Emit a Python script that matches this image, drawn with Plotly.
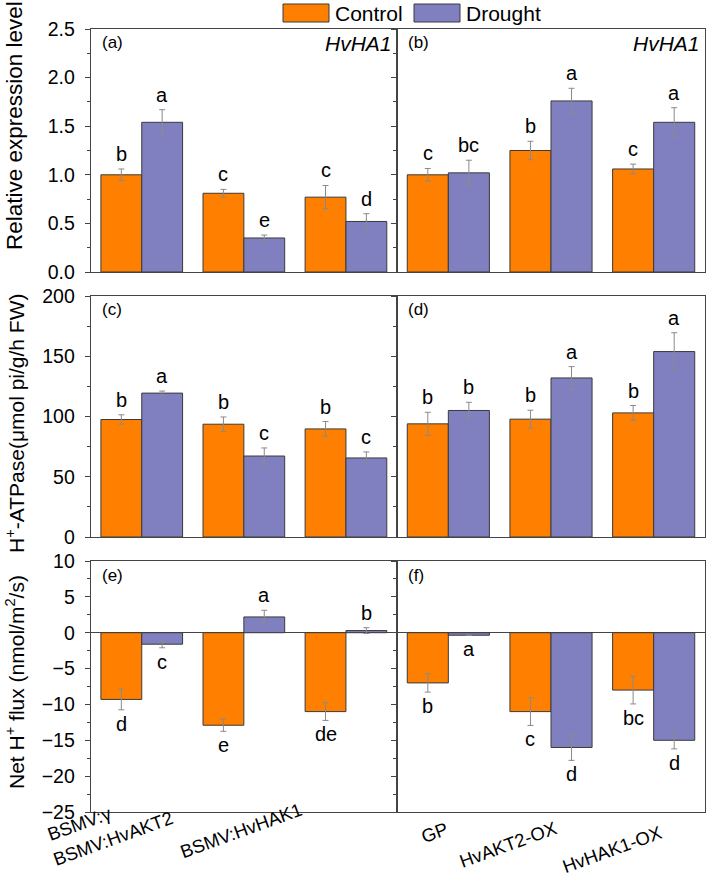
import plotly.graph_objects as go

W, H = 709, 878

cats_left = ["BSMV:γ", "BSMV:HvAKT2", "BSMV:HvHAK1"]
cats_right = ["GP", "HvAKT2-OX", "HvHAK1-OX"]

# (a) relative expression, silenced lines
a_ctrl = [1.00, 0.81, 0.77]
a_ctrl_err = [0.06, 0.04, 0.12]
a_dro = [1.54, 0.35, 0.52]
a_dro_err = [0.13, 0.03, 0.08]
a_ctrl_lab = ["b", "c", "c"]
a_dro_lab = ["a", "e", "d"]

# (b) relative expression, overexpression lines
b_ctrl = [1.00, 1.25, 1.06]
b_ctrl_err = [0.065, 0.095, 0.05]
b_dro = [1.02, 1.76, 1.54]
b_dro_err = [0.13, 0.13, 0.15]
b_ctrl_lab = ["c", "b", "c"]
b_dro_lab = ["bc", "a", "a"]

# (c) H+-ATPase activity, silenced lines
c_ctrl = [97.5, 93.6, 89.7]
c_ctrl_err = [3.9, 6.0, 6.1]
c_dro = [119.4, 67.2, 65.6]
c_dro_err = [1.7, 6.7, 5.0]
c_ctrl_lab = ["b", "b", "b"]
c_dro_lab = ["a", "c", "c"]

# (d) H+-ATPase activity, overexpression lines
d_ctrl = [93.9, 97.8, 103.0]
d_ctrl_err = [9.6, 7.4, 6.1]
d_dro = [105.0, 132.0, 153.9]
d_dro_err = [6.8, 9.4, 15.6]
d_ctrl_lab = ["b", "b", "b"]
d_dro_lab = ["b", "a", "a"]

# (e) net H+ flux, silenced lines
e_ctrl = [-9.3, -12.9, -11.0]
e_ctrl_err = [1.45, 0.85, 1.23]
e_dro = [-1.6, 2.2, 0.3]
e_dro_err = [0.5, 0.93, 0.4]
e_ctrl_lab = ["d", "e", "de"]
e_dro_lab = ["c", "a", "b"]

# (f) net H+ flux, overexpression lines
f_ctrl = [-7.0, -11.0, -8.0]
f_ctrl_err = [1.28, 1.93, 1.93]
f_dro = [-0.35, -16.0, -15.0]
f_dro_err = [0.0, 1.8, 1.2]
f_ctrl_lab = ["b", "c", "bc"]
f_dro_lab = ["a", "d", "d"]

ORANGE = "#FF8000"
PURPLE = "#8080C0"
EDGE = "#3a3a3a"
ERRC = "#8a8a8a"
AXC = "#444444"
FONT = "Liberation Sans, Arial, sans-serif"

panels = [
    ("x", "y", cats_left, a_ctrl, a_ctrl_err, a_dro, a_dro_err, a_ctrl_lab, a_dro_lab, "(a)"),
    ("x2", "y2", cats_right, b_ctrl, b_ctrl_err, b_dro, b_dro_err, b_ctrl_lab, b_dro_lab, "(b)"),
    ("x3", "y3", cats_left, c_ctrl, c_ctrl_err, c_dro, c_dro_err, c_ctrl_lab, c_dro_lab, "(c)"),
    ("x4", "y4", cats_right, d_ctrl, d_ctrl_err, d_dro, d_dro_err, d_ctrl_lab, d_dro_lab, "(d)"),
    ("x5", "y5", cats_left, e_ctrl, e_ctrl_err, e_dro, e_dro_err, e_ctrl_lab, e_dro_lab, "(e)"),
    ("x6", "y6", cats_right, f_ctrl, f_ctrl_err, f_dro, f_dro_err, f_ctrl_lab, f_dro_lab, "(f)"),
]

fig = go.Figure()
annotations = []

for xa, ya, cats, cv, ce, dv, de, cl, dl, plab in panels:
    for name, vals, errs, col, labs, off in [("Control", cv, ce, ORANGE, cl, -0.2),
                                              ("Drought", dv, de, PURPLE, dl, 0.2)]:
        fig.add_trace(go.Bar(
            x=cats, y=vals, name=name, xaxis=xa, yaxis=ya, showlegend=False,
            offsetgroup=name,
            marker=dict(color=col, line=dict(color=EDGE, width=1)),
            error_y=dict(type="data", array=errs, color=ERRC, thickness=1, width=3, visible=True),
        ))
        for i, (v, e, lab) in enumerate(zip(vals, errs, labs)):
            if v >= 0:
                annotations.append(dict(x=i + off, y=v + e, xref=xa, yref=ya, text=lab,
                                        showarrow=False, yanchor="bottom", yshift=2,
                                        font=dict(size=20, color="black", family=FONT)))
            else:
                annotations.append(dict(x=i + off, y=v - e, xref=xa, yref=ya, text=lab,
                                        showarrow=False, yanchor="top", yshift=-1,
                                        font=dict(size=20, color="black", family=FONT)))
    # panel letter
    annotations.append(dict(x=0.03, y=0.99, xref=xa + " domain", yref=ya + " domain",
                            text=plab, showarrow=False, xanchor="left", yanchor="top",
                            font=dict(size=17, color="black", family=FONT)))

for xa, ya in [("x", "y"), ("x2", "y2")]:
    annotations.append(dict(x=0.99, y=0.995, xref=xa + " domain", yref=ya + " domain",
                            text="<i>HvHA1</i>", showarrow=False, xanchor="right", yanchor="top",
                            font=dict(size=21, color="black", family=FONT)))

# category labels under the bottom panels (placed like the original, slanted)
label_shift = {"x5": [-62, -131, -105], "x6": [-14, -43, -42]}
label_y = {"x5": [823, 838, 830], "x6": [832, 844, 849]}
for xa, cats in [("x5", cats_left), ("x6", cats_right)]:
    for i, c in enumerate(cats):
        annotations.append(dict(x=i, y=1 - label_y[xa][i] / H, xref=xa, yref="paper",
                                xshift=label_shift[xa][i], text=c, textangle=-20,
                                showarrow=False, xanchor="center", yanchor="middle",
                                font=dict(size=18.5, color="black", family=FONT)))

# y-axis titles
ytitles = [("Relative expression level", 126, 22.5),
           ("H<sup>+</sup>-ATPase(μmol pi/g/h FW)", 423, 21),
           ("Net H<sup>+</sup> flux (nmol/m<sup>2</sup>/s)", 682, 21)]
for t, py, fs in ytitles:
    annotations.append(dict(x=15 / W, y=1 - py / H, xref="paper", yref="paper", text=t,
                            textangle=-90, showarrow=False, xanchor="center", yanchor="middle",
                            font=dict(size=fs, color="black", family=FONT)))

# legend (drawn manually to match wide swatches)
shapes = []
for x0, x1, col, label in [(283, 329, ORANGE, "Control"), (414, 460, PURPLE, "Drought")]:
    shapes.append(dict(type="rect", xref="paper", yref="paper",
                       x0=x0 / W, x1=x1 / W, y0=1 - 22 / H, y1=1 - 4 / H,
                       fillcolor=col, line=dict(color=EDGE, width=1)))
    annotations.append(dict(x=(x1 + 4) / W, y=1 - 13 / H, xref="paper", yref="paper",
                            text=label, showarrow=False, xanchor="left", yanchor="middle",
                            font=dict(size=21, color="black", family=FONT)))

XL = [90.7 / W, 397 / W]
XR = [397 / W, 705 / W]
Y1 = [1 - 272 / H, 1 - 29 / H]
Y2 = [1 - 537 / H, 1 - 296 / H]
Y3 = [1 - 812 / H, 1 - 561 / H]

def xax(dom, anchor):
    return dict(domain=dom, anchor=anchor, showline=True, linecolor=AXC, linewidth=1,
                mirror=True, ticks="", showticklabels=False,
                range=[-0.5, 2.5], showgrid=False, zeroline=False, automargin=False,
                type="category")

def yax(dom, anchor, rng, dtick, minor, labels, zero=False, fmt=""):
    return dict(domain=dom, anchor=anchor, range=rng, dtick=dtick, tick0=0,
                showline=True, linecolor=AXC, linewidth=1, mirror=True,
                ticks="outside", ticklen=5, tickcolor=AXC, ticklabelstandoff=6,
                minor=dict(dtick=minor, tick0=0, ticks="outside", ticklen=3, tickcolor=AXC),
                showticklabels=labels, tickformat=fmt,
                tickfont=dict(size=19.5, color="black", family=FONT),
                showgrid=False, zeroline=zero, zerolinecolor=AXC, zerolinewidth=1,
                automargin=False)

fig.update_layout(
    width=W, height=H,
    margin=dict(l=0, r=0, t=0, b=0),
    paper_bgcolor="white", plot_bgcolor="white",
    barmode="group", bargap=0.2, bargroupgap=0,
    showlegend=False,
    font=dict(family=FONT, color="black"),
    xaxis=xax(XL, "y"),
    xaxis2=xax(XR, "y2"),
    xaxis3=xax(XL, "y3"),
    xaxis4=xax(XR, "y4"),
    xaxis5=xax(XL, "y5"),
    xaxis6=xax(XR, "y6"),
    yaxis=yax(Y1, "x", [0, 2.5], 0.5, 0.25, True, fmt=".1f"),
    yaxis2=yax(Y1, "x2", [0, 2.5], 0.5, 0.25, False),
    yaxis3=yax(Y2, "x3", [0, 200], 50, 25, True),
    yaxis4=yax(Y2, "x4", [0, 200], 50, 25, False),
    yaxis5=yax(Y3, "x5", [-25, 10], 5, 2.5, True, zero=True),
    yaxis6=yax(Y3, "x6", [-25, 10], 5, 2.5, False, zero=True),
    annotations=annotations,
    shapes=shapes,
)

fig.write_html("out.html", config={"displayModeBar": False},
               post_script="document.body.style.margin='0px';")
